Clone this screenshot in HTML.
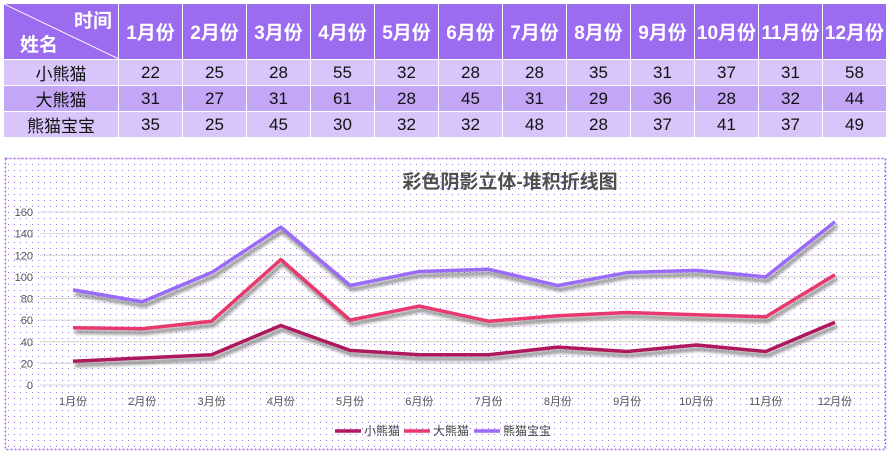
<!DOCTYPE html>
<html><head><meta charset="utf-8">
<style>
body{margin:0;width:891px;height:453px;background:#fff;font-family:"Liberation Sans","Noto Sans CJK SC",sans-serif;position:relative;overflow:hidden}
table{position:absolute;left:3px;top:3px;border-collapse:collapse;table-layout:fixed}
td{border:1px solid #fff;text-align:center;padding:0;font-size:17px;color:#111}
tr.h td{background:#9b6bf0;color:#fff;font-weight:bold;font-size:19px;height:55px}
tr.a td{background:#d8c6fa;height:25px}
tr.b td{background:#c3a6f6;height:25px}
</style></head><body>
<table>
<colgroup><col style="width:115px"><col span="12" style="width:64px"></colgroup>
<tr class="h"><td style="position:relative"><svg width="115" height="55" style="position:absolute;left:0;top:0"><line x1="0" y1="0" x2="115" y2="55" stroke="#fff" stroke-width="1"/></svg><span style="position:absolute;right:6px;top:2px">时间</span><span style="position:absolute;left:16px;bottom:2px">姓名</span></td><td>1月份</td><td>2月份</td><td>3月份</td><td>4月份</td><td>5月份</td><td>6月份</td><td>7月份</td><td>8月份</td><td>9月份</td><td>10月份</td><td>11月份</td><td>12月份</td></tr>
<tr class="a"><td>小熊猫</td><td>22</td><td>25</td><td>28</td><td>55</td><td>32</td><td>28</td><td>28</td><td>35</td><td>31</td><td>37</td><td>31</td><td>58</td></tr>
<tr class="b"><td>大熊猫</td><td>31</td><td>27</td><td>31</td><td>61</td><td>28</td><td>45</td><td>31</td><td>29</td><td>36</td><td>28</td><td>32</td><td>44</td></tr>
<tr class="a"><td>熊猫宝宝</td><td>35</td><td>25</td><td>45</td><td>30</td><td>32</td><td>32</td><td>48</td><td>28</td><td>37</td><td>41</td><td>37</td><td>49</td></tr>
</table>
<svg id="c" width="891" height="453" style="position:absolute;left:0;top:0">
<defs><pattern id="dots" width="6" height="6" patternUnits="userSpaceOnUse"><rect x="2" y="2" width="1" height="1" fill="#9b6bf0"/></pattern>
<filter id="sh" x="-10%" y="-20%" width="120%" height="160%"><feGaussianBlur stdDeviation="1.5"/></filter></defs>
<rect x="5.5" y="158.5" width="880" height="291" fill="url(#dots)" stroke="#9b6bf0" stroke-width="1.5" stroke-dasharray="2,2"/>
<text x="510" y="188" font-size="19" font-weight="bold" text-anchor="middle" fill="#505050" font-family="Liberation Sans,Noto Sans CJK SC,sans-serif">彩色阴影立体-堆积折线图</text>
<g id="g"></g>
</svg>
<script>
var g=document.getElementById('g'),s='';
function Y(v){return 385-v*1.08125}
for(var v=0;v<=160;v+=20){var y=Y(v);s+='<line x1="40" x2="880" y1="'+y+'" y2="'+y+'" stroke="#d4d4d4"/><text x="33" y="'+(y+4)+'" font-size="11" fill="#555" text-anchor="end">'+v+'</text>';}
for(var i=0;i<12;i++){s+='<text x="'+(73+i*69.27)+'" y="405" font-size="11" fill="#555" text-anchor="middle" font-family="Liberation Sans,Noto Sans CJK SC,sans-serif">'+(i+1)+'月份</text>';}
var a=[22,25,28,55,32,28,28,35,31,37,31,58],b=[31,27,31,61,28,45,31,29,36,28,32,44],c=[35,25,45,30,32,32,48,28,37,41,37,49];
var s1=[],s2=[],s3=[];for(i=0;i<12;i++){s1.push(a[i]);s2.push(a[i]+b[i]);s3.push(a[i]+b[i]+c[i]);}
var cols=['#b0185e','#e8386e','#9a6af8'],ser=[s1,s2,s3];
for(var k=2;k>=0;k--){var p=ser[k].map(function(v,i){return (73+i*69.27)+','+Y(v)}).join(' ');
var ps=ser[k].map(function(v,i){return (75+i*69.27)+','+(Y(v)+4)}).join(' ');
s+='<polyline points="'+ps+'" fill="none" stroke="#777" stroke-width="4" filter="url(#sh)" opacity="0.8"/>';
s+='<polyline points="'+p+'" fill="none" stroke="'+cols[k]+'" stroke-width="3.5" stroke-linejoin="round"/>';}
var names=['小熊猫','大熊猫','熊猫宝宝'],lx=[335,404,474];
for(k=0;k<3;k++){s+='<line x1="'+lx[k]+'" x2="'+(lx[k]+26)+'" y1="431" y2="431" stroke="'+cols[k]+'" stroke-width="3.5"/><text x="'+(lx[k]+29)+'" y="435" font-size="12" fill="#444" font-family="Liberation Sans,Noto Sans CJK SC,sans-serif">'+names[k]+'</text>';}
g.innerHTML=s;
</script>
</body></html>
